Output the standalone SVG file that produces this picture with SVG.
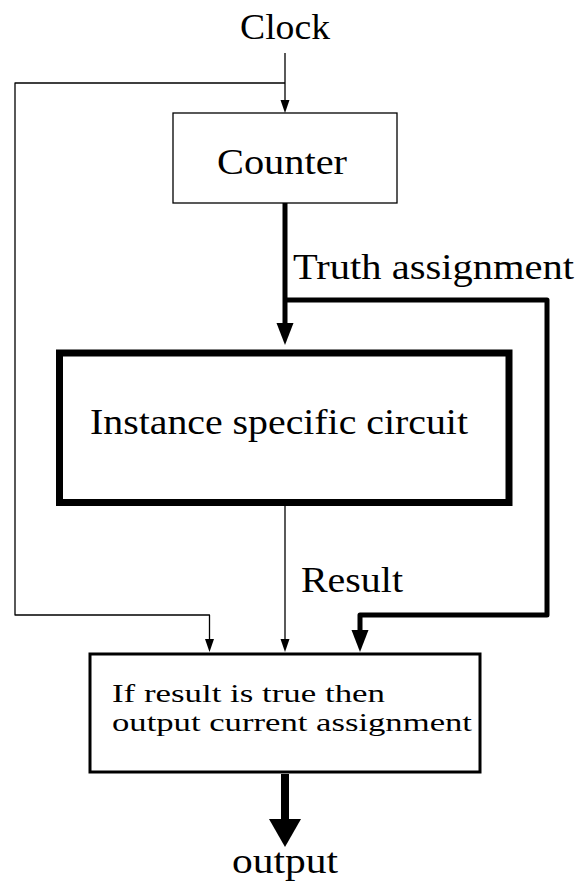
<svg xmlns="http://www.w3.org/2000/svg" width="584" height="886" viewBox="0 0 584 886">
  <style>
    text { font-family: "Liberation Serif", "DejaVu Serif", serif; fill: #000; }
    .big { font-size: 35px; }
    .small { font-size: 26px; }
    .box { fill: #fff; stroke: #000; }
    .wire { fill: none; stroke: #000; stroke-linejoin: round; }
    .thin { stroke-width: 1.3; }
    .bus { stroke-width: 5; }
    .out { stroke-width: 8; }
  </style>
  <defs>
    <marker id="arrowThin" markerUnits="userSpaceOnUse" markerWidth="13" markerHeight="9" refX="0" refY="4.5" orient="auto" overflow="visible">
      <path d="M0,0 L13,4.5 L0,9 Z" fill="#000"/>
    </marker>
    <marker id="arrowBus" markerUnits="userSpaceOnUse" markerWidth="22" markerHeight="17" refX="0" refY="8.5" orient="auto" overflow="visible">
      <path d="M0,0 L22,8.5 L0,17 Z" fill="#000"/>
    </marker>
    <marker id="arrowOut" markerUnits="userSpaceOnUse" markerWidth="28" markerHeight="32" refX="0" refY="16" orient="auto" overflow="visible">
      <path d="M0,0 L28,16 L0,32 Z" fill="#000"/>
    </marker>
  </defs>

  <!-- connectors -->
  <g id="connectors">
    <path class="wire thin" d="M285,53 V100" marker-end="url(#arrowThin)"/>
    <path class="wire thin" d="M285,83 H15 V615 H209.5 V639" marker-end="url(#arrowThin)"/>
    <path class="wire bus" d="M285,203 V323" marker-end="url(#arrowBus)"/>
    <path class="wire bus" d="M285,300 H547 V615 H360 V630" marker-end="url(#arrowBus)"/>
    <path class="wire thin" d="M285,506 V639" marker-end="url(#arrowThin)"/>
    <path class="wire out" d="M285,774 V819" marker-end="url(#arrowOut)"/>
  </g>

  <!-- nodes -->
  <g id="clock">
    <text class="big" x="240" y="39" textLength="90" lengthAdjust="spacingAndGlyphs">Clock</text>
  </g>

  <g id="counter">
    <rect class="box" x="173" y="113" width="224" height="90" stroke-width="1.3"/>
    <text class="big" x="217" y="174" textLength="130" lengthAdjust="spacingAndGlyphs">Counter</text>
  </g>

  <g id="truth-label">
    <text class="big" x="293" y="279" textLength="281" lengthAdjust="spacingAndGlyphs">Truth assignment</text>
  </g>

  <g id="instance-circuit">
    <rect class="box" x="59.5" y="353" width="449.5" height="149.5" stroke-width="7"/>
    <text class="big" x="90" y="434" textLength="378" lengthAdjust="spacingAndGlyphs">Instance specific circuit</text>
  </g>

  <g id="result-label">
    <text class="big" x="301" y="592" textLength="102" lengthAdjust="spacingAndGlyphs">Result</text>
  </g>

  <g id="output-check">
    <rect class="box" x="90" y="654" width="390" height="118" stroke-width="3"/>
    <text class="small" x="112" y="702" textLength="273" lengthAdjust="spacingAndGlyphs">If result is true then</text>
    <text class="small" x="112" y="731" textLength="360" lengthAdjust="spacingAndGlyphs">output current assignment</text>
  </g>

  <g id="output">
    <text class="big" x="232" y="873" textLength="106" lengthAdjust="spacingAndGlyphs">output</text>
  </g>
</svg>
